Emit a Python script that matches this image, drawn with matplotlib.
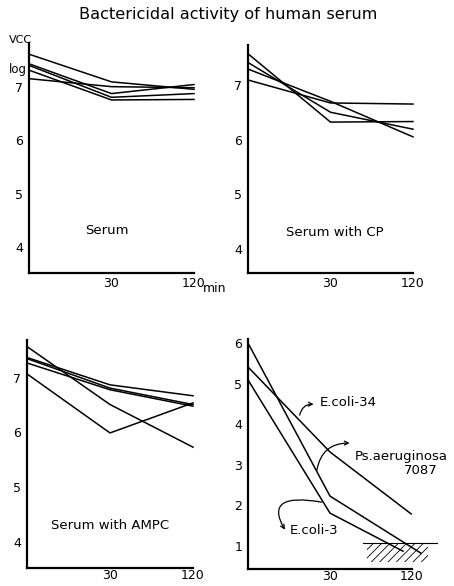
import numpy as np
import matplotlib
matplotlib.use('Agg')
import matplotlib.pyplot as plt

# time axis is drawn at even spacing: 0, 30, 120 min
x_pos = [0, 1, 2]
x_labels = ['', '30', '120']

# log VCC values
serum = [
    [7.62, 7.10, 6.96],
    [7.16, 7.01, 6.99],
    [7.44, 6.88, 7.05],
    [7.41, 6.81, 6.88],
    [7.32, 6.76, 6.77],
]
serum_cp = [
    [7.57, 6.32, 6.33],
    [7.41, 6.50, 6.19],
    [7.29, 6.70, 6.05],
    [7.09, 6.67, 6.65],
]
serum_ampc = [
    [7.57, 6.51, 5.73],
    [7.37, 6.87, 6.67],
    [7.35, 6.81, 6.51],
    [7.27, 6.78, 6.48],
    [7.07, 5.99, 6.54],
]
# last panel, the end points don't sit exactly on 120
ecoli34_x = [0, 1, 1.99]
ecoli34 = [5.41, 3.31, 1.78]
psaer_x = [0, 1, 2.11]
psaer = [6.0, 2.22, 0.81]
ecoli3_x = [0, 1, 1.89]
ecoli3 = [5.09, 1.80, 0.86]
limit_y = 1.06

W, H = 454, 586
fig = plt.figure(figsize=(W / 100, H / 100), dpi=100)
plt.rcParams['hatch.linewidth'] = 0.6


def px_axes(l, r, t, b):
    return fig.add_axes([l / W, 1 - b / H, (r - l) / W, (b - t) / H])


def style(ax, ylim, yticks, xpad=3):
    ax.set_xlim(0, 2)
    ax.set_ylim(*ylim)
    ax.spines['top'].set_visible(False)
    ax.spines['right'].set_visible(False)
    for s in ['left', 'bottom']:
        ax.spines[s].set_linewidth(1.6)
    ax.set_xticks(x_pos)
    ax.set_xticklabels(x_labels)
    ax.set_yticks(yticks)
    ax.tick_params(length=0, labelsize=9)
    ax.tick_params(axis='y', pad=4)
    ax.tick_params(axis='x', pad=xpad)
    ax.patch.set_alpha(0)


def draw_lines(ax, rows):
    for r in rows:
        ax.plot(x_pos, r, color='black', lw=1.1, clip_on=False)


ax1 = px_axes(29, 194, 43, 273)
style(ax1, (3.51, 7.83), [4, 5, 6, 7])
draw_lines(ax1, serum)
ax1.text(1 - 0.05, 4.3, 'Serum', fontsize=9.5, ha='center', va='center')

ax2 = px_axes(248, 413, 45, 273)
style(ax2, (3.56, 7.73), [4, 5, 6, 7])
draw_lines(ax2, serum_cp)
ax2.text(1.05, 4.3, 'Serum with CP', fontsize=9.5, ha='center', va='center')

ax3 = px_axes(27, 193, 340, 568)
style(ax3, (3.52, 7.69), [4, 5, 6, 7], xpad=0.5)
draw_lines(ax3, serum_ampc)
ax3.text(1.0, 4.3, 'Serum with AMPC', fontsize=9.5, ha='center', va='center')

ax4 = px_axes(248, 412, 339, 569)
style(ax4, (0.42, 6.1), [1, 2, 3, 4, 5, 6], xpad=0.5)
ax4.plot(ecoli34_x, ecoli34, color='black', lw=1.1, clip_on=False)
ax4.plot(psaer_x, psaer, color='black', lw=1.1, clip_on=False)
ax4.plot(ecoli3_x, ecoli3, color='black', lw=1.1, clip_on=False)

# detection limit with hatched area below
ax4.plot([1.40, 2.30], [limit_y, limit_y], color='black', lw=0.8, clip_on=False)
ax4.fill_between([1.45, 2.20], 0.6, limit_y, facecolor='none', edgecolor='black',
                 hatch='////', linewidth=0, clip_on=False)

ax4.text(0.88, 4.52, 'E.coli-34', fontsize=9.5, va='center')
ax4.text(1.30, 3.19, 'Ps.aeruginosa', fontsize=9.5, va='center')
ax4.text(1.90, 2.86, '7087', fontsize=9.5, va='center')
ax4.text(0.51, 1.38, 'E.coli-3', fontsize=9.5, va='center')

arrow = dict(arrowstyle='->', lw=0.9, color='black', shrinkA=0, shrinkB=0,
             mutation_scale=7)
ax4.annotate('', xy=(0.80, 4.49), xytext=(0.63, 4.22),
             arrowprops=dict(arrow, connectionstyle='arc3,rad=-0.4'))
ax4.annotate('', xy=(1.24, 3.53), xytext=(0.84, 2.86),
             arrowprops=dict(arrow, connectionstyle='angle3,angleA=80,angleB=0'))
ax4.annotate('', xy=(0.45, 1.39), xytext=(0.90, 2.07),
             arrowprops=dict(arrow, connectionstyle='angle3,angleA=170,angleB=120'))

fig.text(228 / W, 1 - 15 / H, 'Bactericidal activity of human serum',
         fontsize=11.6, ha='center', va='center')
fig.text(20 / W, 1 - 40 / H, 'VCC', fontsize=8, ha='center', va='center')
fig.text(18 / W, 1 - 70 / H, 'log', fontsize=8.5, ha='center', va='center')
fig.text(203 / W, 1 - 289 / H, 'min', fontsize=9, ha='left', va='center')

fig.savefig('out.png', dpi=100)
